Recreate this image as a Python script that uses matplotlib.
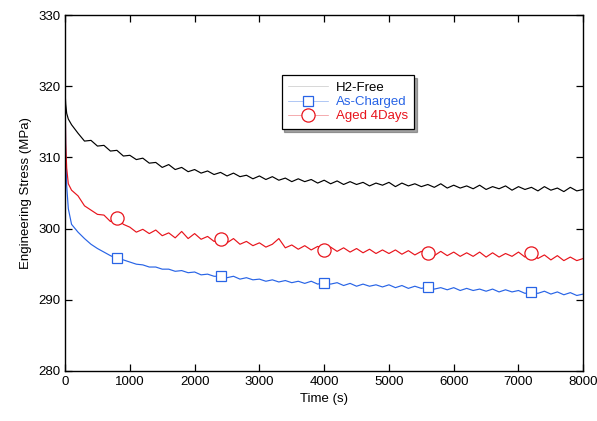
import matplotlib
matplotlib.use("Agg")
import matplotlib.pyplot as plt

plt.rcParams['font.family'] = ['Liberation Sans', 'DejaVu Sans']

# time grid (s)
time_s = [0, 10, 25, 50,
          100, 200, 300, 400, 500, 600, 700, 800, 900, 1000,
          1100, 1200, 1300, 1400, 1500, 1600, 1700, 1800, 1900, 2000,
          2100, 2200, 2300, 2400, 2500, 2600, 2700, 2800, 2900, 3000,
          3100, 3200, 3300, 3400, 3500, 3600, 3700, 3800, 3900, 4000,
          4100, 4200, 4300, 4400, 4500, 4600, 4700, 4800, 4900, 5000,
          5100, 5200, 5300, 5400, 5500, 5600, 5700, 5800, 5900, 6000,
          6100, 6200, 6300, 6400, 6500, 6600, 6700, 6800, 6900, 7000,
          7100, 7200, 7300, 7400, 7500, 7600, 7700, 7800, 7900, 8000]

h2_free = [319.2, 317.5, 316.2, 315.4,
           314.6, 313.4, 312.3, 312.4, 311.6, 311.7, 310.9, 311.0, 310.2, 310.3,
           309.7, 309.9, 309.2, 309.3, 308.6, 309.0, 308.3, 308.6, 308.0, 308.3,
           307.8, 308.1, 307.6, 307.9, 307.4, 307.8, 307.3, 307.5, 307.0, 307.4,
           306.9, 307.3, 306.8, 307.1, 306.6, 307.0, 306.6, 306.9, 306.4, 306.8,
           306.3, 306.7, 306.2, 306.6, 306.2, 306.5, 306.0, 306.4, 306.1, 306.5,
           305.9, 306.4, 306.0, 306.3, 305.9, 306.2, 305.8, 306.3, 305.7, 306.1,
           305.7, 306.0, 305.6, 306.1, 305.5, 305.9, 305.6, 306.0, 305.4, 305.9,
           305.5, 305.8, 305.3, 305.9, 305.4, 305.7, 305.2, 305.8, 305.3, 305.5]

as_charged = [319.0, 311.0, 306.0, 302.8,
              300.6, 299.5, 298.6, 297.8, 297.2, 296.7, 296.2, 295.8, 295.6, 295.3,
              295.0, 294.9, 294.6, 294.6, 294.3, 294.3, 294.0, 294.1, 293.8, 293.9,
              293.5, 293.6, 293.3, 293.3, 293.1, 293.3, 292.9, 293.1, 292.8, 292.9,
              292.6, 292.8, 292.5, 292.7, 292.4, 292.6, 292.3, 292.6, 292.2, 292.4,
              292.2, 292.4, 292.0, 292.3, 291.9, 292.2, 291.9, 292.1, 291.8, 292.1,
              291.7, 292.0, 291.6, 291.9, 291.6, 291.8, 291.5, 291.7, 291.4, 291.7,
              291.3, 291.6, 291.3, 291.5, 291.2, 291.5, 291.1, 291.4, 291.1, 291.3,
              290.9, 291.1, 290.9, 291.2, 290.8, 291.1, 290.7, 291.0, 290.6, 290.8]

aged_4days = [319.0, 312.0, 308.5, 306.3,
              305.4, 304.6, 303.2, 302.6, 302.0, 301.9, 301.0, 301.5, 300.6, 300.2,
              299.5, 299.9, 299.3, 299.8, 299.0, 299.4, 298.7, 299.6, 298.6, 299.3,
              298.5, 298.9, 298.2, 298.5, 298.0, 298.6, 297.8, 298.2, 297.6, 298.0,
              297.4, 297.8, 298.6, 297.3, 297.7, 297.1, 297.6, 297.0, 297.5, 297.0,
              297.4, 296.8, 297.3, 296.7, 297.2, 296.6, 297.1, 296.5, 297.0, 296.5,
              297.0, 296.4, 296.9, 296.3, 296.8, 296.6, 296.2, 296.8, 296.2, 296.7,
              296.1, 296.6, 296.1, 296.7, 296.0, 296.6, 296.0, 296.5, 296.1, 296.7,
              296.0, 296.6, 295.8, 296.3, 295.6, 296.2, 295.5, 296.0, 295.5, 295.8]

marker_times = [800, 2400, 4000, 5600, 7200]
mark_idx = [time_s.index(m) for m in marker_times]

blue = '#2864e6'
red = '#e8141c'

fig = plt.figure(figsize=(5.97, 4.21), dpi=100)
ax = fig.add_axes([0.109, 0.119, 0.868, 0.845])

ax.plot(time_s, h2_free, color='black', lw=0.85, label='H2-Free')
ax.plot(time_s, as_charged, color=blue, lw=0.85, marker='s', ms=7.5,
        mfc='white', mec=blue, mew=0.9, markevery=mark_idx, label='As-Charged')
ax.plot(time_s, aged_4days, color=red, lw=0.85, marker='o', ms=9.5,
        mfc='white', mec=red, mew=0.9, markevery=mark_idx, label='Aged 4Days')

ax.set_xlim(0, 8000)
ax.set_ylim(280, 330)
ax.set_xticks(range(0, 8001, 1000))
ax.set_yticks(range(280, 331, 10))
ax.tick_params(direction='in', top=True, right=True, length=5, labelsize=9.5,
               width=0.9)
for s in ax.spines.values():
    s.set_linewidth(1.0)

ax.set_xlabel('Time (s)', fontsize=9.5)
ax.set_ylabel('Engineering Stress (MPa)', fontsize=9.5)

leg = ax.legend(loc='upper left', bbox_to_anchor=(0.405, 0.85), fontsize=9.5,
                fancybox=False, shadow=True, edgecolor='black', framealpha=1,
                handlelength=3.0, borderpad=0.5, labelspacing=0.15,
                handletextpad=0.6)
leg.get_frame().set_linewidth(0.9)
leg.get_lines()[0].set_color('#c8c8c8')
for ln in leg.get_lines():
    ln.set_linewidth(0.5)
leg.get_lines()[1].set_color('#8fb0f0')
leg.get_lines()[2].set_color('#f08a8e')
for txt, c in zip(leg.get_texts(), ['black', blue, red]):
    txt.set_color(c)

fig.savefig('out.png', dpi=100)
